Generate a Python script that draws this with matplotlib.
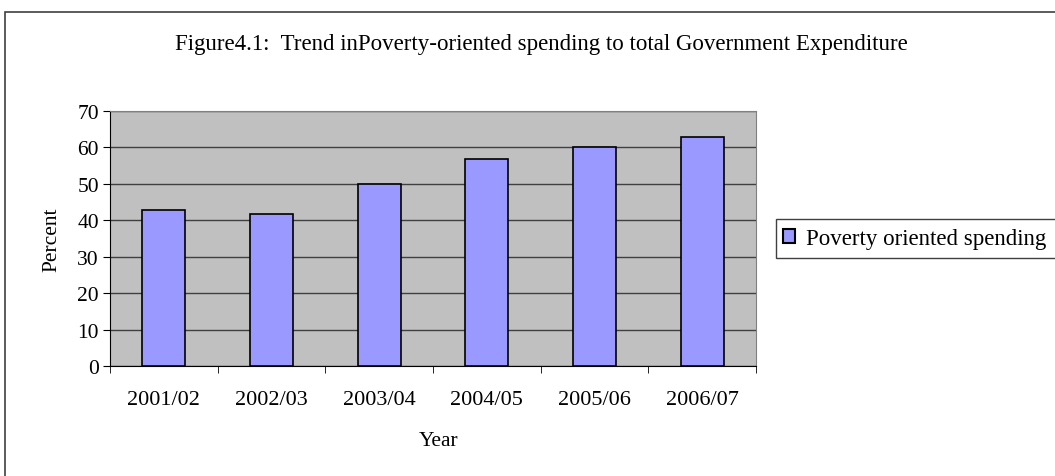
import matplotlib
matplotlib.use("Agg")
import matplotlib.pyplot as plt
from matplotlib.patches import Rectangle, Patch
import numpy as np

years = ["2001/02", "2002/03", "2003/04", "2004/05", "2005/06", "2006/07"]
poverty_share = [42.7, 41.6, 50.0, 56.7, 60.0, 62.8]
series_name = "Poverty oriented spending"
title = "Figure4.1:  Trend inPoverty-oriented spending to total Government Expenditure"

plt.rcParams["font.family"] = ["Liberation Serif", "DejaVu Serif"]
FS = 15.5

W, H = 1055, 477
fig = plt.figure(figsize=(W / 100, H / 100), dpi=100)
fig.patch.set_facecolor("white")

# outer chart frame (runs past the right and bottom edges)
fig.add_artist(Rectangle((5 / W, -0.05), 1.2, 1 - 13 / H + 0.05,
                         transform=fig.transFigure, fill=False,
                         edgecolor="#404040", linewidth=1.2))

ax = fig.add_axes([110 / W, 1 - 367 / H, 646 / W, 255 / H])
ax.set_facecolor("#C0C0C0")

x = np.arange(len(years))
ax.bar(x, poverty_share, width=0.4, color="#9999FF", edgecolor="black",
       linewidth=1.2, zorder=3, label=series_name)

ax.set_xlim(-0.5, len(years) - 0.5)
ax.set_ylim(0, 70)
ax.set_yticks(range(0, 71, 10))
ax.yaxis.grid(True, color="#404040", linewidth=1.0, zorder=1)
ax.set_axisbelow(True)

ax.set_xticks(x)
ax.set_xticklabels(years)
ax.set_xticks(np.arange(-0.5, len(years), 1.0), minor=True)
ax.tick_params(axis="x", which="major", length=0, pad=17, labelsize=16)
ax.tick_params(axis="x", which="minor", length=5, direction="out", color="black")
ax.tick_params(axis="y", length=5, direction="out", labelsize=FS, pad=3)

for side in ("top", "right"):
    ax.spines[side].set_color("#808080")
for side in ("left", "bottom"):
    ax.spines[side].set_color("black")

fig.text(439 / W, 1 - 442 / H, "Year", ha="center", va="center", fontsize=FS)
fig.text(52 / W, 1 - 240 / H, "Percent", ha="center", va="center",
         rotation=90, fontsize=FS)

fig.text(541 / W, 1 - 50 / H, title, ha="center", va="baseline", fontsize=16.5)

# legend frame runs past the right edge of the chart area
fig.add_artist(Rectangle((776 / W, 1 - 259 / H), 300 / W, 39 / H,
                         transform=fig.transFigure, facecolor="white",
                         edgecolor="#404040", linewidth=1.0))
handle = Patch(facecolor="#9999FF", edgecolor="black", linewidth=1.5)
leg = fig.legend([handle], [series_name], loc="center left",
                 bbox_to_anchor=(776 / W, 1 - 240 / H),
                 frameon=False, fontsize=16.5,
                 handlelength=0.55, handleheight=0.55, handletextpad=0.45,
                 borderpad=0.3, borderaxespad=0)

fig.savefig("out.png", dpi=100)
